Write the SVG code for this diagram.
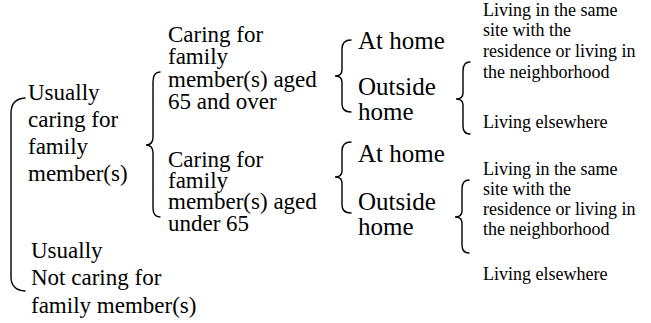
<svg xmlns="http://www.w3.org/2000/svg" width="651" height="323" viewBox="0 0 651 323">
<style>
text{font-family:'Liberation Serif','Times New Roman','DejaVu Serif','Noto Serif',serif;fill:#000}
.big{font-size:23px}
.mid{font-size:25px}
.sm{font-size:18px}
.br{fill:none;stroke:#000;stroke-width:1.4;stroke-linecap:round}
</style>
<rect width="651" height="323" fill="#fff"/>
<g id="connectors">
<path class="br" d="M25,98 Q11,99 11,113 L11,277 Q11,290 25,291"/>
<path class="br" d="M160,72 Q153,72 153,82 L153,137 Q153,145 146,145 Q153,145 153,153 L153,208 Q153,217 160,217"/>
<path class="br" d="M351,40 Q342,40 342,49 L342,70 Q342,76 335,76 Q342,76 342,82 L342,104 Q342,112 351,112"/>
<path class="br" d="M351,142 Q342,142 342,151 L342,171 Q342,177 335,177 Q342,177 342,183 L342,205 Q342,213 351,213"/>
<path class="br" d="M470,62 Q463,62 463,71 L463,93 Q463,99 456,99 Q463,99 463,105 L463,126 Q463,134 470,134"/>
<path class="br" d="M469,180 Q462,180 462,189 L462,211 Q462,217 455,217 Q462,217 462,223 L462,245 Q462,253 469,253"/>
</g>
<g id="n-caring">
<text class="big" x="28" y="100">Usually</text>
<text class="big" x="28" y="127">caring for</text>
<text class="big" x="28" y="154">family</text>
<text class="big" x="28" y="181">member(s)</text>
</g>
<g id="n-notcaring">
<text class="big" x="31" y="258">Usually</text>
<text class="big" x="31" y="285">Not caring for</text>
<text class="big" x="31" y="313">family member(s)</text>
</g>
<g id="n-65over">
<text class="big" x="168" y="42">Caring for</text>
<text class="big" x="168" y="64">family</text>
<text class="big" x="168" y="87">member(s) aged</text>
<text class="big" x="168" y="109">65 and over</text>
</g>
<g id="n-under65">
<text class="big" x="168" y="167">Caring for</text>
<text class="big" x="168" y="188">family</text>
<text class="big" x="168" y="209">member(s) aged</text>
<text class="big" x="168" y="231">under 65</text>
</g>
<g id="n-athome1">
<text class="mid" x="358" y="49">At home</text>
</g>
<g id="n-outside1">
<text class="mid" x="358" y="95">Outside</text>
<text class="mid" x="358" y="120">home</text>
</g>
<g id="n-athome2">
<text class="mid" x="358" y="162">At home</text>
</g>
<g id="n-outside2">
<text class="mid" x="358" y="210">Outside</text>
<text class="mid" x="358" y="235">home</text>
</g>
<g id="n-same1">
<text class="sm" x="483" y="16">Living in the same</text>
<text class="sm" x="483" y="36">site with the</text>
<text class="sm" x="483" y="57">residence or living in</text>
<text class="sm" x="483" y="78">the neighborhood</text>
</g>
<g id="n-else1">
<text class="sm" x="483" y="128">Living elsewhere</text>
</g>
<g id="n-same2">
<text class="sm" x="483" y="175">Living in the same</text>
<text class="sm" x="483" y="195">site with the</text>
<text class="sm" x="483" y="215">residence or living in</text>
<text class="sm" x="483" y="235">the neighborhood</text>
</g>
<g id="n-else2">
<text class="sm" x="483" y="280">Living elsewhere</text>
</g>
</svg>
